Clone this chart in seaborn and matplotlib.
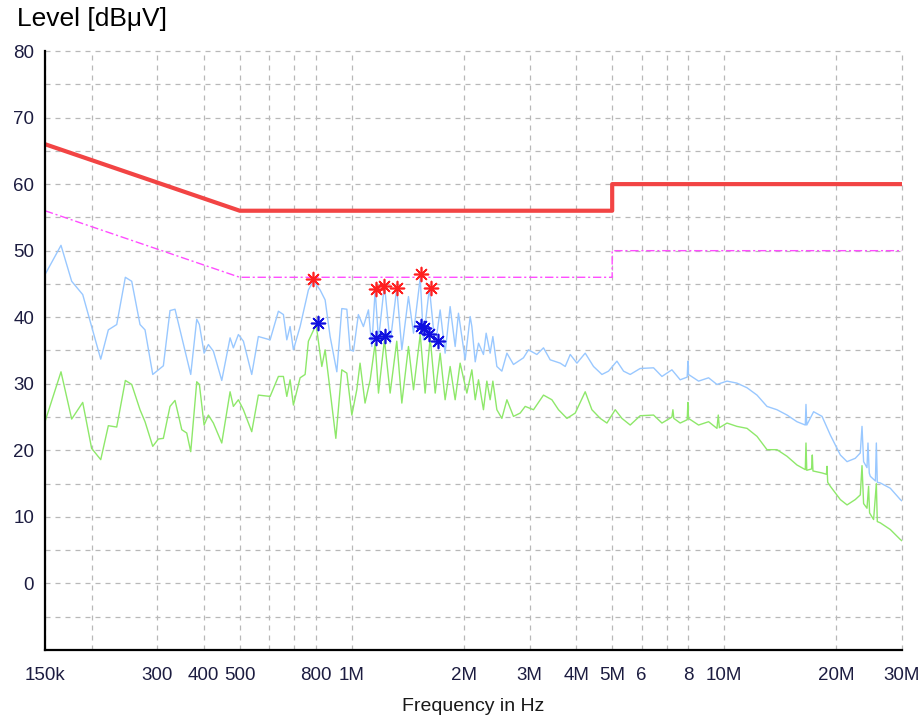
import numpy as np
import pandas as pd
import matplotlib
matplotlib.use("Agg")
import matplotlib.pyplot as plt
from matplotlib.ticker import FixedLocator, FixedFormatter
import seaborn as sns

# ---------------- data (frequency in MHz, level in dBuV) ----------------
peak_f = [0.150, 0.1656, 0.1769, 0.1894, 0.2001, 0.2117, 0.2219, 0.2337, 0.2465, 0.2564,
          0.2699, 0.2784, 0.2920, 0.3118, 0.3249, 0.3351, 0.3693, 0.3833, 0.3896, 0.4011,
          0.4119, 0.4248, 0.4474, 0.4710, 0.4807, 0.4958, 0.5114, 0.5385, 0.5610, 0.6033,
          0.6350, 0.6550, 0.6689, 0.6826, 0.6967, 0.7262, 0.7644, 0.7886, 0.8218, 0.8477,
          0.8742, 0.9113, 0.9397, 0.9694, 0.9893, 1.010, 1.041, 1.074, 1.108, 1.131,
          1.155, 1.179, 1.223, 1.267, 1.320, 1.362, 1.419, 1.464, 1.526, 1.557,
          1.615, 1.674, 1.726, 1.780, 1.836, 1.894, 1.933, 2.015, 2.078, 2.100,
          2.144, 2.188, 2.256, 2.294, 2.351, 2.391, 2.451, 2.528, 2.608, 2.716,
          2.889, 2.980, 3.139, 3.270, 3.408, 3.626, 3.740, 3.858, 4.021, 4.232,
          4.455, 4.693, 4.888, 5.149, 5.364, 5.589, 5.945, 6.457, 6.801, 7.233,
          7.614, 7.950, 7.985, 8.015, 8.530, 9.074, 9.556, 10.17, 10.81, 11.51,
          12.24, 13.02, 13.85, 14.74, 15.67, 16.50, 16.57, 16.65, 17.37, 18.30,
          19.26, 20.49, 21.36, 22.47, 23.18, 23.43, 23.66, 24.16, 24.31, 24.50,
          24.66, 25.45, 25.60, 25.75, 26.24, 27.91, 29.69, 30.0]
peak_v = [46.4, 50.8, 45.4, 43.4, 38.6, 33.7, 38.1, 38.9, 46.0, 45.4,
          38.9, 38.1, 31.4, 32.7, 41.0, 41.2, 31.4, 39.7, 38.9, 34.6,
          35.9, 34.9, 30.5, 36.9, 35.4, 37.4, 36.4, 31.4, 37.1, 36.6,
          40.9, 40.4, 36.6, 38.6, 35.1, 38.6, 44.1, 45.5, 44.1, 42.6,
          37.1, 31.8, 41.3, 41.2, 35.1, 34.9, 40.4, 38.6, 41.1, 35.6,
          44.1, 36.6, 44.9, 36.1, 44.4, 35.1, 43.1, 37.6, 45.9, 36.6,
          44.4, 35.6, 41.1, 34.6, 41.6, 35.6, 40.6, 33.6, 40.1, 38.6,
          33.3, 36.1, 34.4, 37.6, 34.6, 37.1, 32.6, 31.9, 34.6, 32.9,
          33.9, 35.1, 34.4, 35.4, 33.6, 33.1, 32.6, 34.4, 33.1, 34.6,
          32.6, 31.4, 31.9, 33.4, 31.9, 31.4, 32.3, 32.4, 31.1, 32.1,
          30.6, 31.0, 33.4, 31.4, 30.4, 30.9, 29.9, 30.4, 30.1, 29.4,
          28.3, 26.6, 26.1, 25.3, 24.3, 23.8, 26.9, 23.8, 25.8, 25.1,
          22.3, 19.3, 18.3, 18.8, 19.6, 23.6, 18.3, 17.4, 21.1, 16.6,
          16.1, 15.4, 21.1, 15.2, 15.1, 14.3, 12.6, 12.4]

avg_f = [0.150, 0.1656, 0.1769, 0.1894, 0.2001, 0.2117, 0.2219, 0.2337, 0.2465, 0.2564,
         0.2699, 0.2784, 0.2920, 0.3023, 0.3118, 0.3249, 0.3351, 0.3494, 0.3603, 0.3693,
         0.3833, 0.3896, 0.4011, 0.4119, 0.4248, 0.4474, 0.4710, 0.4807, 0.4958, 0.5114,
         0.5385, 0.5610, 0.6033, 0.6350, 0.6550, 0.6689, 0.6826, 0.6967, 0.7262, 0.7490,
         0.7644, 0.8017, 0.8305, 0.8477, 0.8650, 0.9057, 0.9397, 0.9694, 1.000, 1.031,
         1.052, 1.085, 1.120, 1.155, 1.179, 1.223, 1.267, 1.320, 1.362, 1.419,
         1.464, 1.526, 1.573, 1.623, 1.674, 1.726, 1.780, 1.836, 1.894, 1.953,
         2.036, 2.100, 2.144, 2.188, 2.256, 2.304, 2.351, 2.391, 2.451, 2.528,
         2.608, 2.716, 2.831, 2.920, 3.074, 3.270, 3.444, 3.588, 3.780, 3.979,
         4.232, 4.411, 4.644, 4.840, 5.095, 5.311, 5.589, 5.945, 6.457, 6.801,
         7.233, 7.278, 7.320, 7.614, 7.950, 7.985, 8.015, 8.530, 9.074, 9.556,
         9.634, 9.700, 10.17, 10.81, 11.51, 12.24, 13.02, 13.85, 14.74, 15.67,
         16.50, 16.57, 16.65, 17.15, 17.23, 17.30, 18.30, 18.80, 18.87, 18.95,
         19.26, 20.49, 21.36, 22.47, 23.18, 23.43, 23.66, 24.16, 24.40, 24.55,
         25.17, 25.60, 25.75, 26.24, 27.91, 29.69, 30.0]
avg_v = [24.3, 31.8, 24.7, 27.2, 20.3, 18.6, 23.7, 23.5, 30.5, 29.9,
         26.1, 24.3, 20.6, 21.7, 21.8, 26.6, 27.5, 23.1, 22.6, 19.8,
         30.3, 29.9, 23.8, 25.3, 24.1, 21.1, 28.8, 26.6, 27.6, 26.1,
         22.8, 28.3, 28.1, 31.1, 31.1, 28.1, 30.6, 26.8, 30.9, 31.4,
         36.4, 38.9, 32.6, 35.1, 31.1, 21.8, 32.1, 31.6, 25.3, 29.1,
         33.1, 27.1, 30.6, 36.1, 28.6, 36.6, 28.6, 36.4, 27.1, 35.6,
         29.1, 37.4, 28.6, 36.9, 28.6, 34.6, 27.6, 32.6, 27.6, 33.1,
         28.6, 32.1, 27.6, 30.6, 26.1, 30.4, 27.6, 30.4, 26.1, 24.8,
         27.6, 25.1, 25.6, 26.6, 26.1, 28.3, 27.6, 26.1, 24.8, 25.6,
         28.8, 26.1, 24.8, 24.1, 26.1, 24.8, 23.8, 25.2, 25.3, 24.1,
         25.0, 26.1, 24.8, 24.1, 24.6, 27.2, 24.8, 23.8, 24.3, 23.3,
         25.3, 23.4, 24.1, 23.6, 23.3, 22.1, 20.1, 20.1, 19.1, 17.8,
         17.1, 21.1, 17.0, 17.2, 19.3, 16.9, 16.6, 16.4, 17.6, 15.2,
         14.6, 12.6, 11.8, 12.6, 13.3, 17.7, 12.0, 11.3, 14.6, 10.6,
         9.6, 15.0, 9.3, 9.1, 8.1, 6.6, 6.4]

qp_limit_f = [0.15, 0.5, 5.0, 5.0, 30.0]
qp_limit_v = [66.0, 56.0, 56.0, 60.0, 60.0]
av_limit_f = [0.15, 0.5, 5.0, 5.0, 30.0]
av_limit_v = [56.0, 46.0, 46.0, 50.0, 50.0]

qp_mark_f = [0.788, 1.160, 1.223, 1.326, 1.535, 1.632]
qp_mark_v = [45.7, 44.2, 44.7, 44.4, 46.5, 44.4]
av_mark_f = [0.810, 1.160, 1.228, 1.535, 1.563, 1.613, 1.700]
av_mark_v = [39.2, 36.9, 37.25, 38.7, 38.4, 37.5, 36.4]

xtick_pos = [0.15, 0.2, 0.3, 0.4, 0.5, 0.6, 0.7, 0.8, 1, 2, 3, 4, 5, 6, 7, 8, 10, 20, 30]
xtick_lab = ["150k", "", "300", "400", "500", "", "", "800", "1M", "2M", "3M", "4M",
             "5M", "6", "", "8", "10M", "20M", "30M"]
ytick_major = [0, 10, 20, 30, 40, 50, 60, 70, 80]
ytick_minor = [-5, 5, 15, 25, 35, 45, 55, 65, 75]

# ---------------- style ----------------
sns.set_style("white")
plt.rcParams["font.family"] = ["Liberation Sans", "DejaVu Sans"]

fig = plt.figure(figsize=(9.2, 7.16), dpi=100)
ax = fig.add_axes([45 / 920, 1 - 650 / 716, (902 - 45) / 920, (650 - 51) / 716])

peak_df = pd.DataFrame({"f": peak_f, "v": peak_v})
avg_df = pd.DataFrame({"f": avg_f, "v": avg_v})
qp_df = pd.DataFrame({"f": qp_limit_f, "v": qp_limit_v})
av_df = pd.DataFrame({"f": av_limit_f, "v": av_limit_v})

sns.lineplot(data=peak_df, x="f", y="v", ax=ax, color="#99c8ff", lw=1.0,
             sort=False, estimator=None, zorder=3)
sns.lineplot(data=avg_df, x="f", y="v", ax=ax, color="#8ee86a", lw=1.0,
             sort=False, estimator=None, zorder=3)
sns.lineplot(data=qp_df, x="f", y="v", ax=ax, color="#f24444", lw=3.0,
             sort=False, estimator=None, zorder=4)
sns.lineplot(data=av_df, x="f", y="v", ax=ax, color="#ff4dff", lw=1.0,
             sort=False, estimator=None, zorder=4)
ax.lines[-1].set_dashes([6, 2, 1.5, 2])

sns.scatterplot(x=qp_mark_f, y=qp_mark_v, ax=ax, marker=(8, 2, 0), s=100,
                color="#ff2020", linewidth=1.2, zorder=6)
sns.scatterplot(x=qp_mark_f, y=qp_mark_v, ax=ax, marker="o", s=9,
                color="#ff2020", linewidth=0, zorder=6)
sns.scatterplot(x=av_mark_f, y=av_mark_v, ax=ax, marker=(8, 2, 0), s=100,
                color="#1010e0", linewidth=1.2, zorder=6)
sns.scatterplot(x=av_mark_f, y=av_mark_v, ax=ax, marker="o", s=9,
                color="#1010e0", linewidth=0, zorder=6)

ax.set_xscale("log")
ax.set_xlim(0.15, 30)
ax.set_ylim(-10, 80)

ax.xaxis.set_major_locator(FixedLocator(xtick_pos))
ax.xaxis.set_major_formatter(FixedFormatter(xtick_lab))
ax.xaxis.set_minor_locator(FixedLocator([]))
ax.yaxis.set_major_locator(FixedLocator(ytick_major))
ax.yaxis.set_minor_locator(FixedLocator(ytick_minor))

lab_color = "#1c1c40"
ax.tick_params(axis="x", which="major", direction="in", length=5, width=1.3,
               color="black", pad=12, labelsize=13.5, labelcolor=lab_color)
ax.tick_params(axis="y", which="both", direction="inout", length=9.5, width=1.3,
               color="black", pad=3, labelsize=13.5, labelcolor=lab_color)

ax.grid(True, which="both", axis="y", color="#b8b8b8", lw=0.9, ls=(0, (4, 4)))
ax.grid(True, which="major", axis="x", color="#b8b8b8", lw=0.9, ls=(0, (4, 4)))
for g in ax.get_xgridlines() + ax.get_ygridlines():
    g.set_clip_on(False)

for side in ["top", "right"]:
    ax.spines[side].set_visible(False)
for side in ["left", "bottom"]:
    ax.spines[side].set_color("black")
    ax.spines[side].set_linewidth(1.6)
    ax.spines[side].set_zorder(7)

ax.set_xlabel("Frequency in Hz", fontsize=14, color="#1a1a1a", labelpad=10)
ax.set_ylabel("")
fig.text(17 / 920, 1 - 19 / 716, "Level [dBμV]", fontsize=19, color="black",
         ha="left", va="center")

fig.savefig("out.png", dpi=100)
